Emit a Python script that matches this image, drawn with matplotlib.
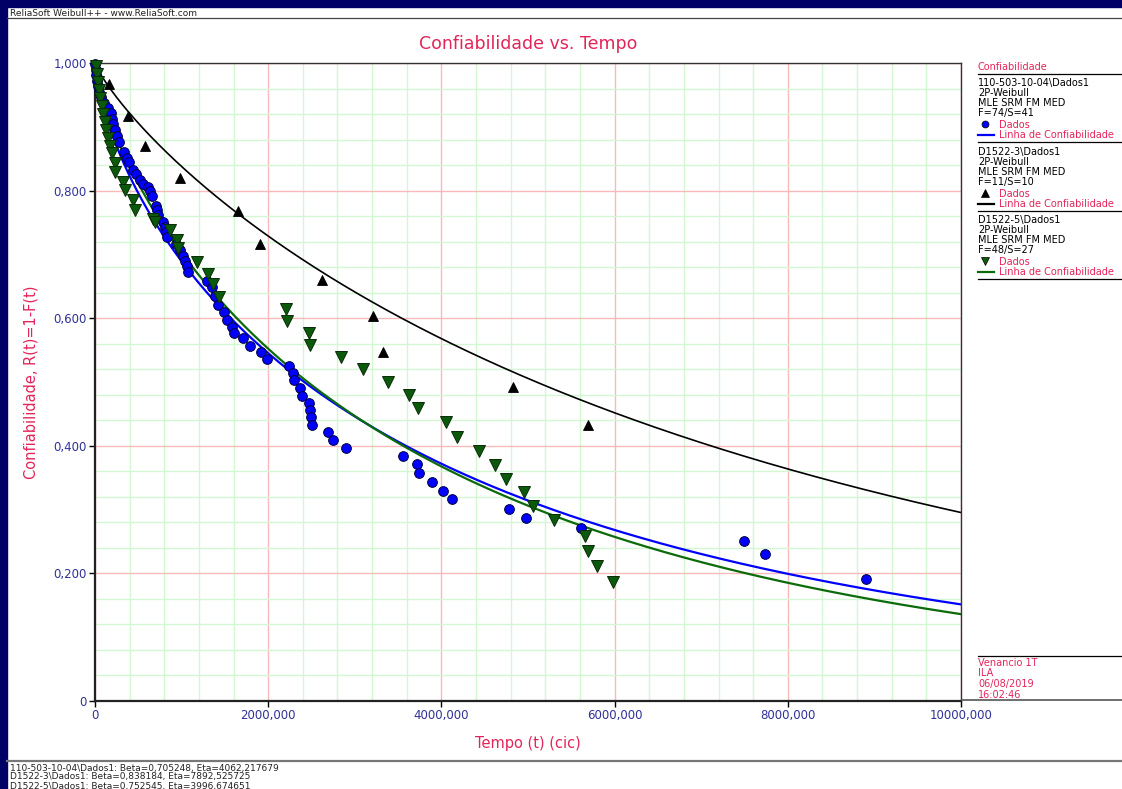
import numpy as np
import matplotlib
matplotlib.use("Agg")
import matplotlib.pyplot as plt
from matplotlib.lines import Line2D
from matplotlib.patches import Rectangle
from matplotlib.ticker import MultipleLocator, FuncFormatter

W, H = 1122, 789

# --- data ---
# 110-503-10-04\Dados1 (blue circles)
blue_t = [5, 10, 15, 25, 35, 46, 69, 104, 150, 185, 196, 208, 231, 254, 277,
          335, 370, 393, 439, 474, 520, 554, 612, 635, 658, 705, 716, 728, 785, 809,
          820, 832, 936, 982, 1016, 1040, 1063, 1074, 1294, 1351, 1386, 1421, 1490, 1525, 1582,
          1605, 1709, 1790, 1917, 1987, 2241, 2287, 2298, 2368, 2391, 2472, 2480, 2495, 2506, 2691,
          2749, 2899, 3557, 3719, 3742, 3892, 4019, 4123, 4782, 4978, 5613, 7496, 7739, 8905]
blue_r = [0.998, 0.989, 0.981, 0.972, 0.964, 0.955, 0.947, 0.937, 0.929, 0.922, 0.912, 0.904, 0.895, 0.886, 0.876,
          0.861, 0.851, 0.845, 0.832, 0.826, 0.817, 0.810, 0.806, 0.799, 0.792, 0.776, 0.770, 0.762, 0.751, 0.743,
          0.735, 0.727, 0.716, 0.707, 0.697, 0.690, 0.682, 0.672, 0.658, 0.649, 0.635, 0.621, 0.610, 0.597, 0.586,
          0.577, 0.569, 0.556, 0.547, 0.536, 0.525, 0.514, 0.503, 0.491, 0.478, 0.467, 0.456, 0.445, 0.433, 0.422,
          0.409, 0.397, 0.384, 0.371, 0.357, 0.343, 0.329, 0.317, 0.301, 0.287, 0.271, 0.251, 0.230, 0.191]

# D1522-3\Dados1 (black triangles)
black_t = [162, 381, 577, 982, 1651, 1905, 2621, 3210, 3326, 4827, 5693]
black_r = [0.967, 0.917, 0.870, 0.820, 0.768, 0.716, 0.660, 0.603, 0.547, 0.492, 0.433]

# D1522-5\Dados1 (green down triangles)
green_t = [12, 23, 35, 46, 58, 81, 92, 115, 127, 150, 173, 196,
           231, 235, 323, 347, 439, 462, 670, 693, 866, 947, 959,
           1178, 1305, 1363, 1432, 2206, 2212, 2472, 2478, 2841, 3095, 3384, 3627, 3731, 4054,
           4181, 4435, 4620, 4747, 4955, 5059, 5301, 5660, 5694, 5798, 5983]
green_r = [0.995, 0.983, 0.970, 0.958, 0.945, 0.933, 0.920, 0.907, 0.895, 0.882, 0.870, 0.859,
           0.843, 0.829, 0.813, 0.801, 0.785, 0.770, 0.755, 0.751, 0.738, 0.723, 0.710,
           0.688, 0.669, 0.654, 0.633, 0.614, 0.596, 0.577, 0.558, 0.539, 0.520, 0.500, 0.480, 0.459, 0.437,
           0.414, 0.392, 0.370, 0.348, 0.328, 0.306, 0.284, 0.259, 0.235, 0.212, 0.187]

# fitted Weibull parameters printed under the chart
names = ["110-503-10-04\\Dados1", "D1522-3\\Dados1", "D1522-5\\Dados1"]
betas = [0.705248, 0.838184, 0.752545]
etas = [4062.217679, 7892.525725, 3996.674651]
counts = ["F=74/S=41", "F=11/S=10", "F=48/S=27"]

RED = "#e3245a"
TICKBLUE = "#30309a"
NAVY = "#000066"


def fx(px):
    return px / W


def fy(py):
    return 1 - py / H


fig = plt.figure(figsize=(W / 100, H / 100), dpi=100)
fig.patch.set_facecolor("white")

# window frame
fig.add_artist(Rectangle((0, fy(7)), 1, 7 / H, transform=fig.transFigure, color=NAVY, zorder=0))
fig.add_artist(Rectangle((0, 0), 7 / W, 1, transform=fig.transFigure, color=NAVY, zorder=0))
fig.text(fx(10), fy(13), "ReliaSoft Weibull++ - www.ReliaSoft.com", fontsize=6.5, va="center", color="#222222")
fig.add_artist(Line2D([fx(7), 1], [fy(18), fy(18)], color="#444444", lw=0.9))
fig.add_artist(Line2D([fx(7), 1], [fy(761), fy(761)], color="#777777", lw=1.6))

ax = fig.add_axes([fx(95), fy(701), 866 / W, 638 / H])
ax.set_xlim(0, 10000)
ax.set_ylim(0, 1)

ax.xaxis.set_major_locator(MultipleLocator(2000))
ax.xaxis.set_minor_locator(MultipleLocator(400))
ax.yaxis.set_major_locator(MultipleLocator(0.2))
ax.yaxis.set_minor_locator(MultipleLocator(0.04))
ax.grid(which="major", color="#f7b9b9", lw=1.0)
ax.grid(which="minor", color="#d2f7d2", lw=1.0)
ax.set_axisbelow(True)


def fmt(v, pos):
    if abs(v) < 1e-9:
        return "0"
    return f"{v:.3f}".replace(".", ",")


ax.xaxis.set_major_formatter(FuncFormatter(fmt))
ax.yaxis.set_major_formatter(FuncFormatter(fmt))
ax.tick_params(which="major", length=4, width=1, color="black", labelcolor=TICKBLUE, labelsize=8.5, pad=2)
ax.tick_params(which="minor", length=0)

for side in ["left", "bottom"]:
    ax.spines[side].set_linewidth(1.6)
    ax.spines[side].set_color("#222222")
for side in ["top", "right"]:
    ax.spines[side].set_linewidth(1.0)
    ax.spines[side].set_color("#333333")

t = np.linspace(0, 10000, 600)
line_cols = ["#0000ff", "#000000", "#0b6b0b"]
line_w = [1.6, 1.2, 1.6]
for b, e, c, lw in zip(betas, etas, line_cols, line_w):
    ax.plot(t, np.exp(-(t / e) ** b), color=c, lw=lw, zorder=2)

ax.plot(blue_t, blue_r, "o", ms=7, mfc="#0000ff", mec="#000040", mew=0.7, zorder=3, clip_on=False)
ax.plot(black_t, black_r, "^", ms=7.5, mfc="black", mec="black", mew=0.6, zorder=3, clip_on=False)
ax.plot(green_t, green_r, "v", ms=8, mfc="#0b5a0b", mec="#0a2a0a", mew=0.7, zorder=4, clip_on=False)

ax.set_title("Confiabilidade vs. Tempo", color=RED, fontsize=12.5, pad=10)
ax.set_xlabel("Tempo (t) (cic)", color=RED, fontsize=10.5, labelpad=10)
ax.set_ylabel("Confiabilidade, R(t)=1-F(t)", color=RED, fontsize=10.5, labelpad=11)

# legend panel on the right
LX = 978
fig.text(fx(LX), fy(67), "Confiabilidade", fontsize=7, color=RED, va="center")
fig.add_artist(Line2D([fx(LX), 1], [fy(74), fy(74)], color="black", lw=0.9))
markers = [("o", "#0000ff", 5), ("^", "black", 5.5), ("v", "#0b5a0b", 6)]
y0s = [83, 152, 220]
for i in range(3):
    y0 = y0s[i]
    for j, s in enumerate([names[i], "2P-Weibull", "MLE SRM FM MED", counts[i]]):
        fig.text(fx(LX), fy(y0 + 10 * j), s, fontsize=7, color="black", va="center")
    m, c, ms = markers[i]
    fig.add_artist(Line2D([fx(985)], [fy(y0 + 41)], marker=m, ms=ms, mfc=c, mec="black", mew=0.5, ls="none"))
    fig.text(fx(999), fy(y0 + 42), "Dados", fontsize=7, color=RED, va="center")
    fig.add_artist(Line2D([fx(LX), fx(994)], [fy(y0 + 52), fy(y0 + 52)], color=line_cols[i], lw=1.6))
    fig.text(fx(999), fy(y0 + 52), "Linha de Confiabilidade", fontsize=7, color=RED, va="center")
    fig.add_artist(Line2D([fx(LX), 1], [fy(y0 + 59), fy(y0 + 59)], color="black", lw=0.9))

# info box bottom right
fig.add_artist(Line2D([fx(LX), 1], [fy(656), fy(656)], color="black", lw=0.9))
for j, s in enumerate(["Venancio 1T", "ILA", "06/08/2019", "16:02:46"]):
    fig.text(fx(LX), fy(663 + 10.5 * j), s, fontsize=7, color=RED, va="center")
fig.add_artist(Line2D([fx(962), 1], [fy(700), fy(700)], color="#555555", lw=1.2))

# parameter lines under the chart
for j in range(3):
    s = f"{names[j]}: Beta={betas[j]:.6f}, Eta={etas[j]:.6f}".replace(".", ",")
    fig.text(fx(10), fy(768 + 9 * j), s, fontsize=6.5, color="#222222", va="center")

fig.savefig("out.png", dpi=100)
